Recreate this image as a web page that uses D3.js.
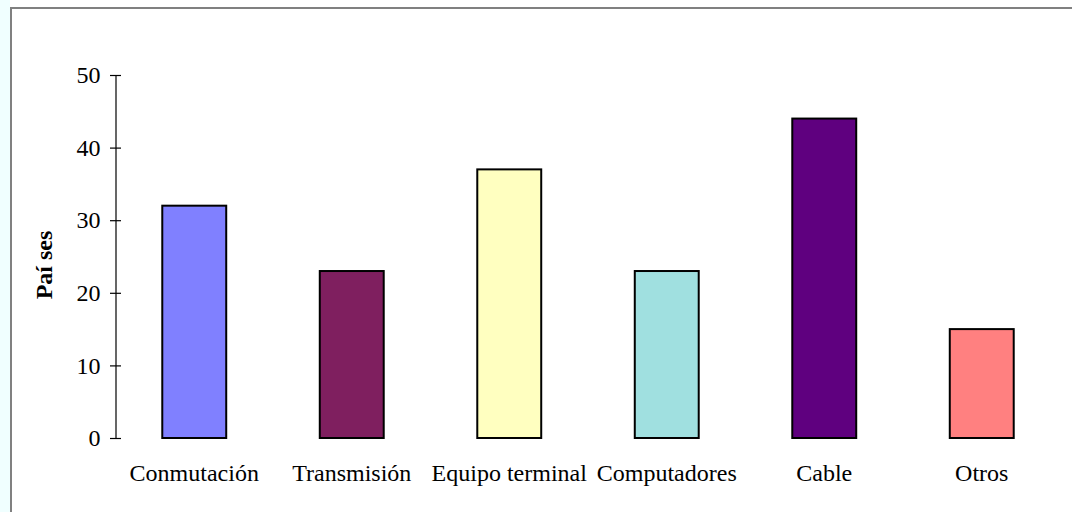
<!DOCTYPE html>
<html>
<head>
<meta charset="utf-8">
<script src="https://cdn.jsdelivr.net/npm/d3@7"></script>
<style>
  html, body { margin: 0; padding: 0; background: #ffffff; }
  svg { display: block; }
  text { font-family: "Liberation Serif", "Times New Roman", serif; fill: #000; }
</style>
</head>
<body>
<svg id="chart" width="1072" height="512"></svg>
<script>
const categories = ["Conmutación", "Transmisión", "Equipo terminal", "Computadores", "Cable", "Otros"];
const values = [32, 23, 37, 23, 44, 15];
const barColors = ["#8080ff", "#7f1f5f", "#ffffc0", "#a0e0e0", "#5f007f", "#ff8080"];
const yTicks = [0, 10, 20, 30, 40, 50];
const yTitle = "Paí ses";

const svg = d3.select("#chart");

// page frame
svg.append("rect").attr("x", 0).attr("y", 0).attr("width", 10).attr("height", 512).attr("fill", "#f0ffff");
svg.append("rect").attr("x", 11).attr("y", 8).attr("width", 1080).attr("height", 520)
  .attr("fill", "#ffffff").attr("stroke", "#808080").attr("stroke-width", 2);

const x = d3.scaleBand().domain(categories).range([115.5, 1060.5]).paddingInner(0.594).paddingOuter(0.297);
const y = d3.scaleLinear().domain([0, 50]).range([438, 75]);

// bars
svg.append("g").selectAll("rect").data(categories).join("rect")
  .attr("x", d => x(d))
  .attr("y", (d, i) => y(values[i]))
  .attr("width", x.bandwidth())
  .attr("height", (d, i) => y(0) - y(values[i]))
  .attr("fill", (d, i) => barColors[i])
  .attr("stroke", "#000").attr("stroke-width", 2);

// y axis
const yAxis = d3.axisLeft(y).tickValues(yTicks).tickSize(0).tickPadding(15);
const gy = svg.append("g").attr("transform", "translate(115.5,0)").call(yAxis);
gy.select(".domain").attr("stroke", "#000").attr("stroke-width", 1.2);
gy.selectAll(".tick line").remove();
gy.selectAll(".tick").append("line").attr("x1", -5.5).attr("x2", 5.5).attr("stroke", "#000").attr("stroke-width", 1.2);
gy.selectAll(".tick text").attr("font-size", 24).attr("font-family", "Liberation Serif").attr("fill", "#000");

// x labels
const xAxis = d3.axisBottom(x).tickSize(0).tickPadding(26);
const gx = svg.append("g").attr("transform", "translate(0,438)").call(xAxis);
gx.select(".domain").remove();
gx.selectAll(".tick text").attr("font-size", 24).attr("font-family", "Liberation Serif").attr("fill", "#000");

// y title
svg.append("text")
  .attr("transform", "translate(52,265) rotate(-90)")
  .attr("text-anchor", "middle")
  .attr("font-size", 24).attr("font-weight", "bold")
  .text(yTitle);
</script>
</body>
</html>
